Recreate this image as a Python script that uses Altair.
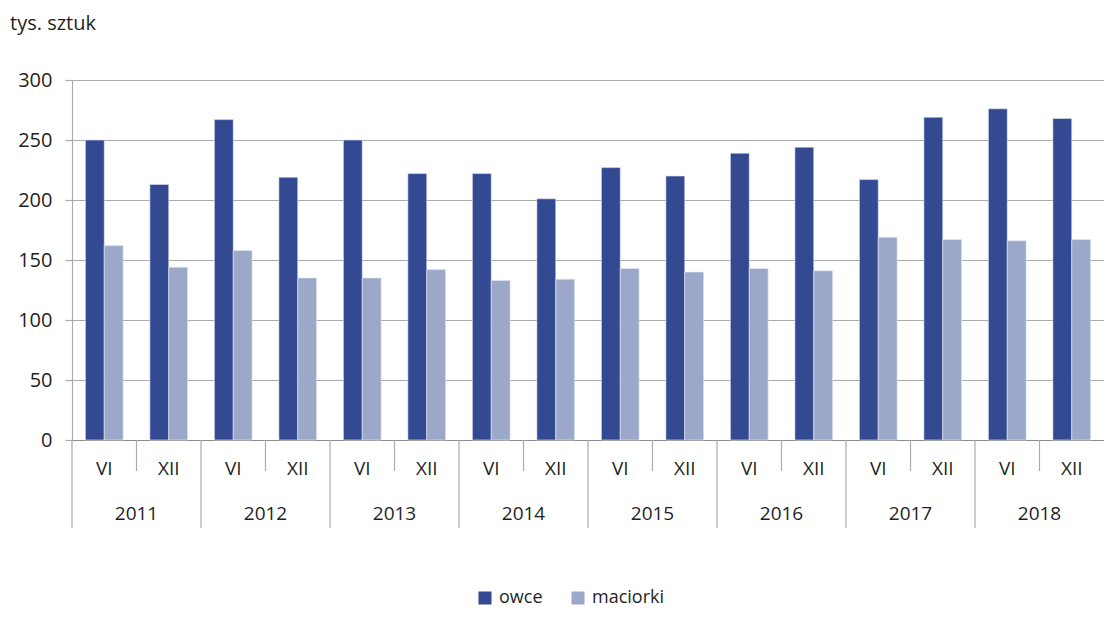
import altair as alt
import pandas as pd

years = ["2011", "2012", "2013", "2014", "2015", "2016", "2017", "2018"]
months = ["VI", "XII"]
series = ["owce", "maciorki"]
owce = [250, 213, 267, 219, 250, 222, 222, 201, 227, 220, 239, 244, 217, 269, 276, 268]
maciorki = [162, 144, 158, 135, 135, 142, 133, 134, 143, 140, 143, 141, 169, 167, 166, 167]
colors = ["#334A93", "#9BA8CA"]

FONT = "Open Sans"
TXT = "#1f1f1f"
GRID = "#ABABAB"

periods = []
rows_p = []
for y in years:
    for m in months:
        p = f"{y} {m}"
        periods.append(p)
        rows_p.append({"okres": p, "rok": y, "miesiac": m})
per_df = pd.DataFrame(rows_p)

rows = []
for i, p in enumerate(periods):
    rows.append({"okres": p, "seria": "owce", "wartosc": owce[i]})
    rows.append({"okres": p, "seria": "maciorki", "wartosc": maciorki[i]})
df = pd.DataFrame(rows)

xscale = alt.Scale(paddingInner=0, paddingOuter=0)

bars = alt.Chart(df).mark_bar(stroke="#e4e7f0", strokeWidth=0.6).encode(
    x=alt.X("okres:N", sort=periods, scale=xscale,
            axis=alt.Axis(labels=False, ticks=False, title=None, domainColor="#8c8c8c", domainWidth=1.2)),
    xOffset=alt.XOffset("seria:N", sort=series, scale=alt.Scale(paddingOuter=0.71, paddingInner=0)),
    y=alt.Y("wartosc:Q", scale=alt.Scale(domain=[0, 300], nice=False),
            axis=alt.Axis(values=[0, 50, 100, 150, 200, 250, 300], title=None,
                          gridColor=GRID, gridWidth=1.2, domainColor=GRID, domainWidth=1.2,
                          tickColor=GRID, tickSize=7, tickWidth=1.2, labelPadding=13,
                          labelFont=FONT, labelFontSize=20, labelColor=TXT)),
    color=alt.Color("seria:N", sort=series,
                    scale=alt.Scale(domain=series, range=colors),
                    legend=alt.Legend(orient="none", legendX=404, legendY=509, direction="horizontal",
                                      title=None, symbolType="square", symbolSize=170,
                                      symbolStrokeWidth=0, labelFont=FONT, labelFontSize=18,
                                      labelColor=TXT, columnPadding=26, labelOffset=5)),
)

month_labels = alt.Chart(per_df).mark_text(font=FONT, fontSize=19, color=TXT, baseline="middle").encode(
    x=alt.X("okres:N", sort=periods),
    y=alt.value(389),
    text="miesiac:N",
)

year_labels = alt.Chart(per_df).transform_filter(alt.datum.miesiac == "VI").mark_text(
    font=FONT, fontSize=19, color=TXT, baseline="middle").encode(
    x=alt.X("okres:N", sort=periods, bandPosition=1),
    y=alt.value(434),
    text="rok:N",
)

month_sep = alt.Chart(per_df).transform_filter(alt.datum.miesiac == "XII").mark_rule(
    color=GRID, strokeWidth=1.2).encode(
    x=alt.X("okres:N", sort=periods, bandPosition=0),
    y=alt.value(360),
    y2=alt.value(391),
)

year_sep = alt.Chart(per_df).transform_filter(alt.datum.miesiac == "VI").mark_rule(
    color=GRID, strokeWidth=1.2).encode(
    x=alt.X("okres:N", sort=periods, bandPosition=0),
    y=alt.value(360),
    y2=alt.value(448),
)

unit = alt.Chart(pd.DataFrame({"t": ["tys. sztuk"]})).mark_text(
    font=FONT, fontSize=20, color=TXT, align="left", baseline="alphabetic").encode(
    x=alt.value(-62),
    y=alt.value(-50),
    text="t:N",
)

chart = alt.layer(bars, month_sep, year_sep, month_labels, year_labels, unit).properties(
    width=1032,
    height=360,
    autosize=alt.AutoSizeParams(type="none"),
    padding={"left": 64, "top": 72, "right": 0, "bottom": 172},
).configure_view(stroke=None).configure(background="white")

chart.save("out.html", embed_options={"renderer": "svg", "actions": False})
